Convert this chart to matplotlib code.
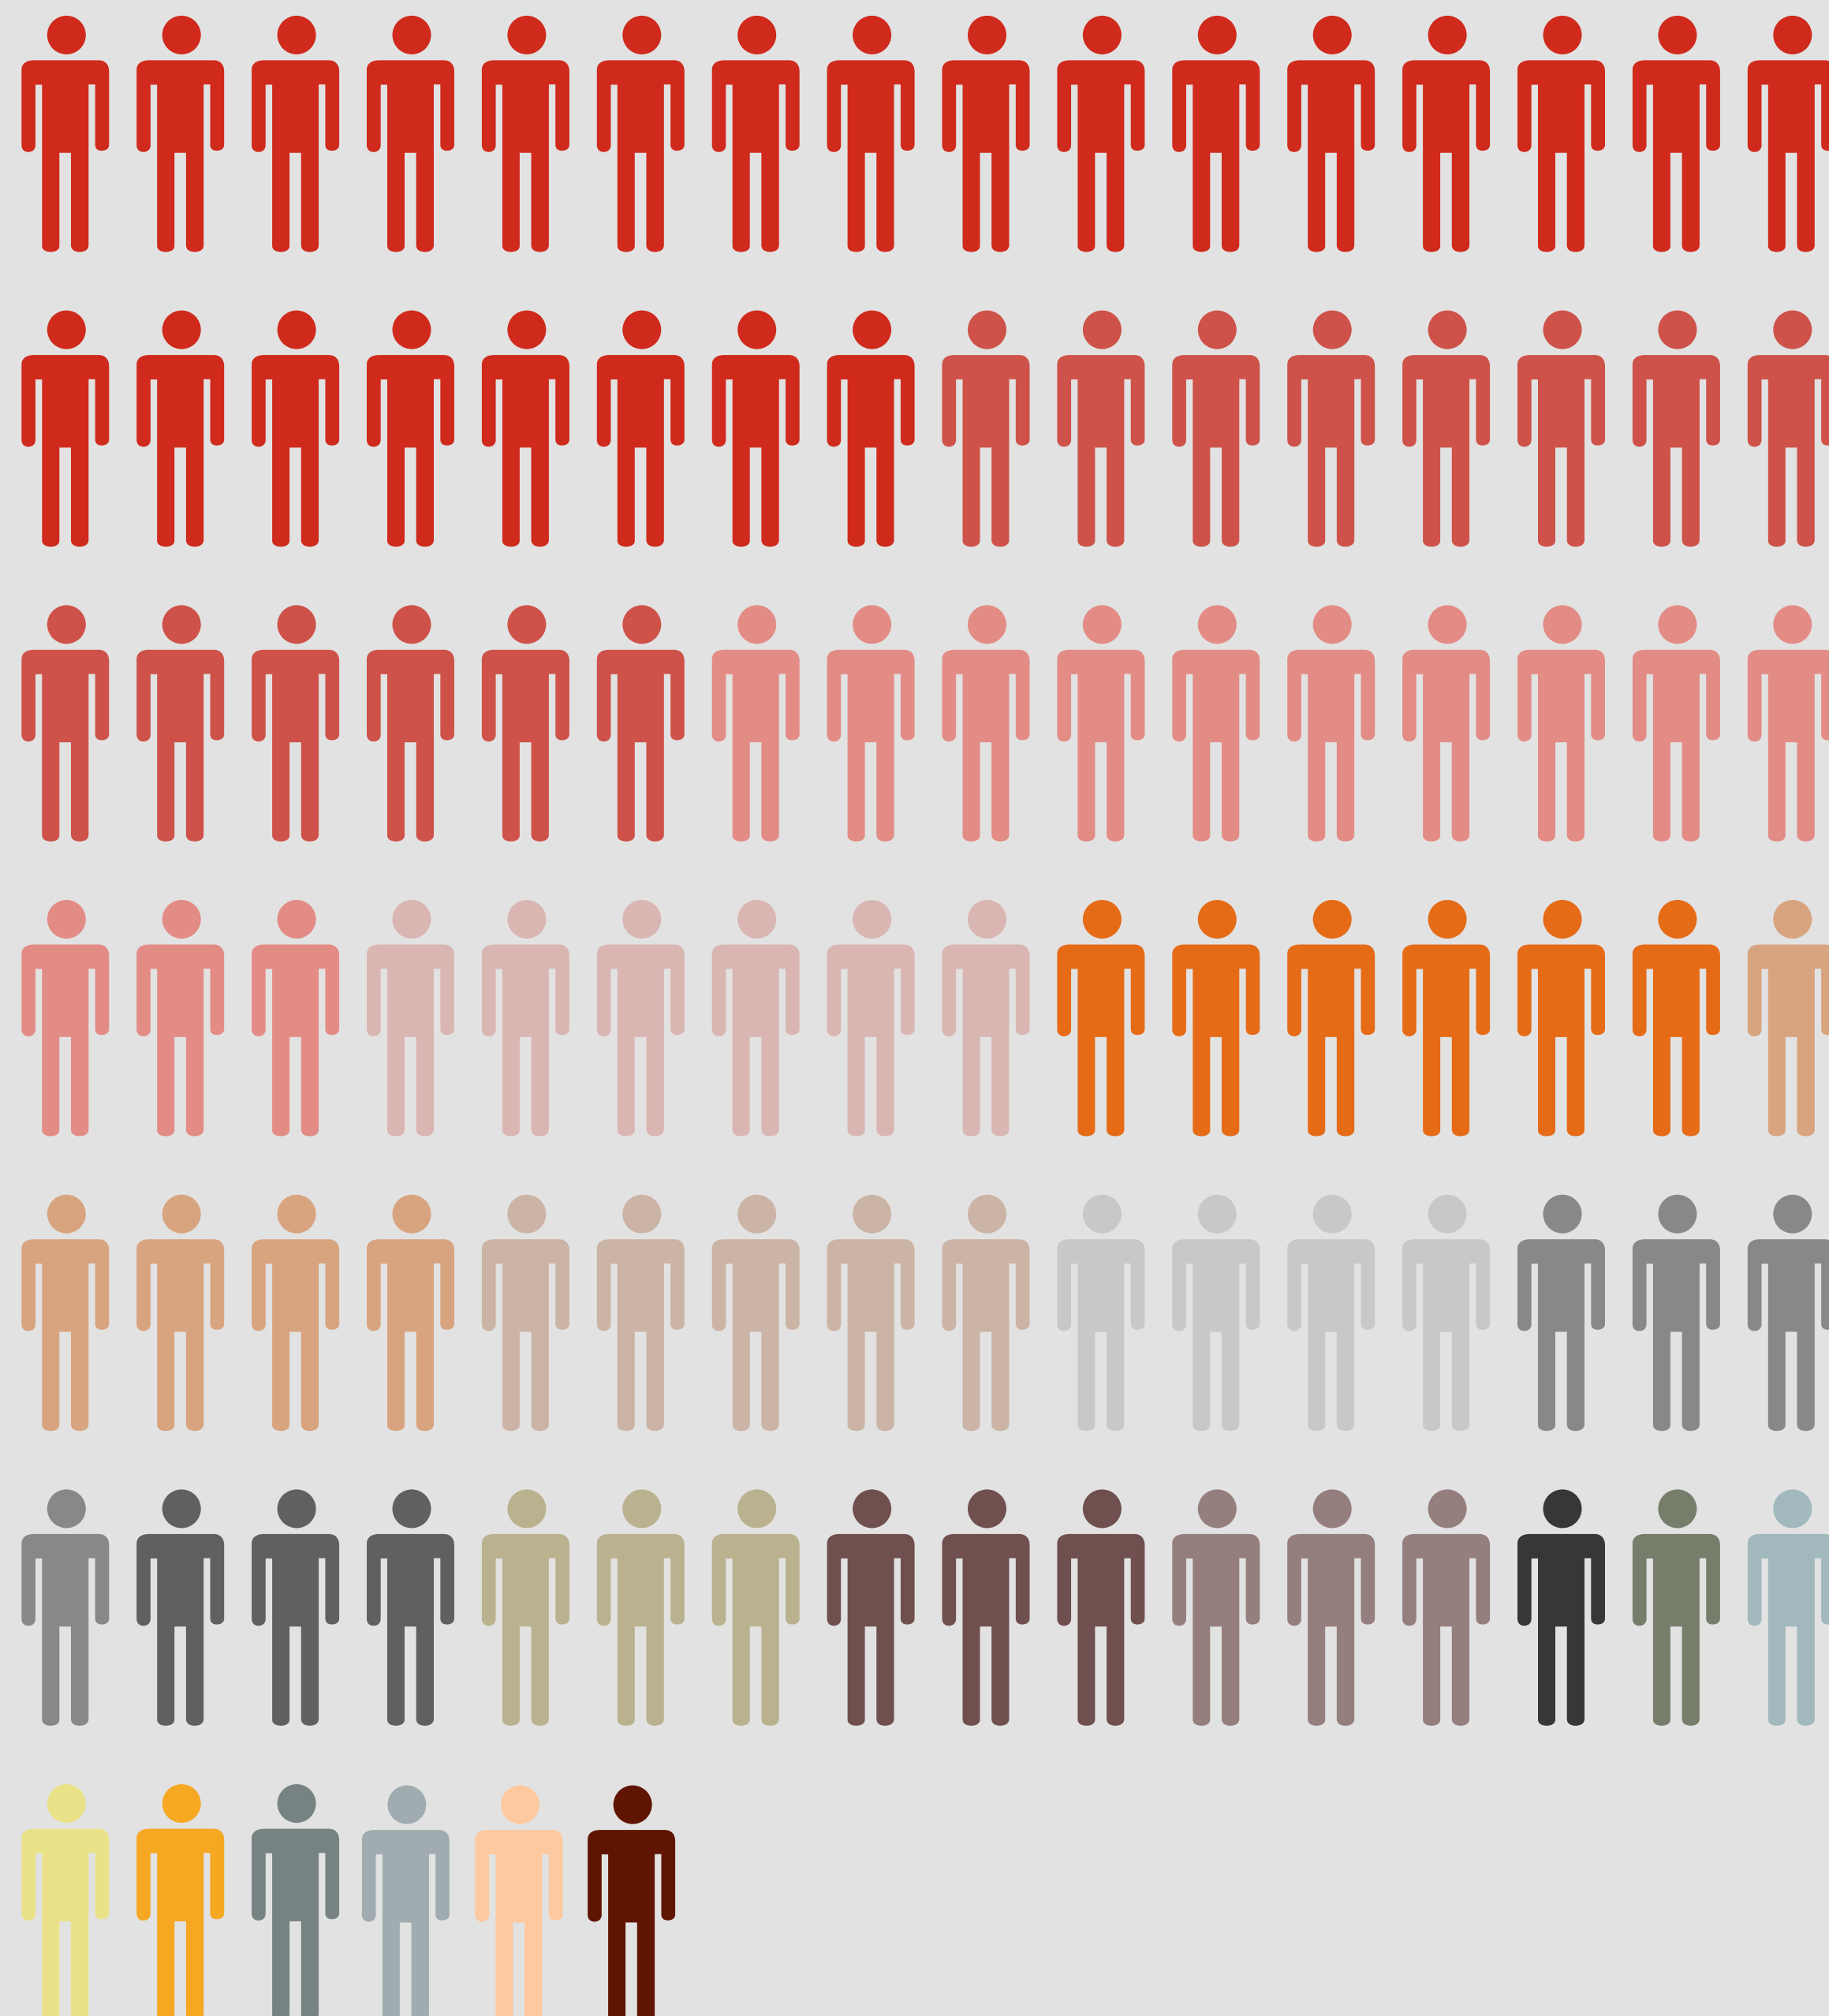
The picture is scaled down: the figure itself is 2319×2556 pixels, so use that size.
import matplotlib
matplotlib.use("Agg")
import matplotlib.pyplot as plt
from matplotlib.path import Path
from matplotlib.patches import PathPatch
from matplotlib.transforms import Affine2D

# Unit chart data: one group per colour, with the number of figures in it
group_colors = ["#CF2A1C", "#CE5249", "#E38C85", "#DAB6B3", "#E56B17", "#D8A47F",
                "#CBB4A5", "#C8C8C8", "#888888", "#606060", "#BAB28F", "#704F4F",
                "#957E7E", "#383735", "#767E6B", "#A1B8BC", "#EAE288", "#F6A823",
                "#778383", "#A0ACAF", "#FEC99E", "#5F1502"]
group_counts = [24, 14, 13, 6, 6, 5, 5, 4, 4, 3, 3, 3, 3, 1, 1, 1, 1, 1, 1, 1, 1, 1]

PER_ROW = 16
W, H = 2319, 2556
BG = "#E2E2E2"
STEP_X, STEP_Y = 145.9, 373.7
ORIGIN_X, ORIGIN_Y = 84.3, 44.4
# The closing row is packed slightly differently from the full rows
LAST_ROW_SLOTS = [0.0, 1.0, 2.0, 2.958, 3.942, 4.92]
LAST_ROW_DROP = [0.0, 0.0, 0.0, 0.004, 0.004, 0.004]

C3 = 3.0  # glyph was traced at 3x


def person_path():
    M, L, C, Z = Path.MOVETO, Path.LINETO, Path.CURVE4, Path.CLOSEPOLY
    v, c = [], []
    def add(code, *pts):
        for p in pts:
            v.append(((p[0] - 253) / C3, (p[1] - 133) / C3))
            c.append(code)
    # body outline
    add(M, (130, 229))
    add(L, (375, 229))
    add(C, (400, 229), (415, 245), (415, 272))
    add(L, (415, 550))
    add(C, (415, 566), (402, 573), (387, 573))
    add(C, (372, 573), (362, 566), (362, 550))
    add(L, (362, 321), (337, 321), (337, 932))
    add(C, (337, 950), (322, 958), (303, 958))
    add(C, (284, 958), (270, 950), (270, 932))
    add(L, (270, 581), (226, 581), (226, 935))
    add(C, (226, 950), (212, 958), (193, 958))
    add(C, (174, 958), (160, 950), (160, 935))
    add(L, (160, 322), (135, 322), (135, 552))
    add(C, (135, 568), (124, 578), (108, 578))
    add(C, (92, 578), (82, 568), (82, 552))
    add(L, (82, 265))
    add(C, (82, 242), (100, 229), (130, 229))
    add(Z, (130, 229))
    # head
    head = Path.unit_circle()
    r = 73.5 / C3
    hv = head.vertices * r
    return Path(list(map(tuple, v)) + list(map(tuple, hv)), c + list(head.codes))


colors = [col for col, n in zip(group_colors, group_counts) for _ in range(n)]

fig = plt.figure(figsize=(W / 100, H / 100), dpi=100, facecolor=BG)
ax = fig.add_axes([0, 0, 1, 1], facecolor=BG)
ax.set_xlim(-ORIGIN_X / STEP_X, (W - ORIGIN_X) / STEP_X)
ax.set_ylim((H - ORIGIN_Y) / STEP_Y, -ORIGIN_Y / STEP_Y)
ax.axis("off")

glyph = person_path().transformed(Affine2D().scale(1 / STEP_X, 1 / STEP_Y))
n_full = (len(colors) // PER_ROW) * PER_ROW
for i, col in enumerate(colors):
    row, slot = divmod(i, PER_ROW)
    x, y = float(slot), float(row)
    if i >= n_full:
        x = LAST_ROW_SLOTS[slot]
        y += LAST_ROW_DROP[slot]
    ax.add_patch(PathPatch(glyph.transformed(Affine2D().translate(x, y)),
                           facecolor=col, edgecolor="none", clip_on=True))

fig.savefig("out.png", dpi=100, facecolor=BG)
